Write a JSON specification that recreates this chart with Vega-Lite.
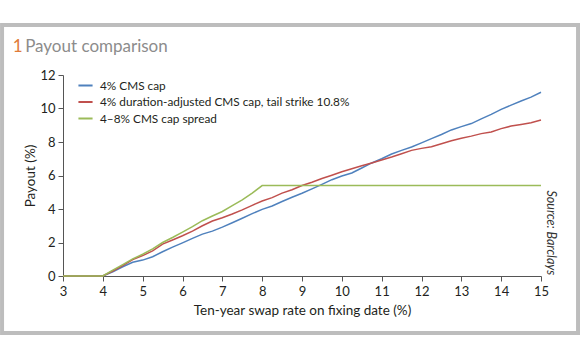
{
  "$schema": "https://vega.github.io/schema/vega-lite/v6.json",
  "width": 478,
  "height": 201,
  "autosize": {"type": "none"},
  "padding": {"left": 63, "top": 75, "right": 39, "bottom": 82},
  "background": "white",
  "data": {"values": [{"k": 1}]},
  "config": {
    "font": "Lato",
    "view": {"stroke": null},
    "axis": {"grid": false, "domainColor": "#555555", "tickColor": "#555555", "labelColor": "#231f20", "titleColor": "#231f20", "labelFontSize": 13, "titleFontSize": 13.5, "titleFontWeight": "normal", "tickSize": 5, "labelFont": "Lato", "titleFont": "Lato", "labelOverlap": false, "labelFlush": false}
  },
  "datasets": {
    "payout": [
      {"rate": 3, "series": "4% CMS cap", "payout": 0},
      {"rate": 4, "series": "4% CMS cap", "payout": 0},
      {"rate": 4.25, "series": "4% CMS cap", "payout": 0.25},
      {"rate": 4.5, "series": "4% CMS cap", "payout": 0.55},
      {"rate": 4.75, "series": "4% CMS cap", "payout": 0.82},
      {"rate": 5, "series": "4% CMS cap", "payout": 0.95},
      {"rate": 5.25, "series": "4% CMS cap", "payout": 1.15},
      {"rate": 5.5, "series": "4% CMS cap", "payout": 1.45},
      {"rate": 5.75, "series": "4% CMS cap", "payout": 1.72},
      {"rate": 6, "series": "4% CMS cap", "payout": 1.98},
      {"rate": 6.25, "series": "4% CMS cap", "payout": 2.25},
      {"rate": 6.5, "series": "4% CMS cap", "payout": 2.5},
      {"rate": 6.75, "series": "4% CMS cap", "payout": 2.68},
      {"rate": 7, "series": "4% CMS cap", "payout": 2.92},
      {"rate": 7.25, "series": "4% CMS cap", "payout": 3.18},
      {"rate": 7.5, "series": "4% CMS cap", "payout": 3.45},
      {"rate": 7.75, "series": "4% CMS cap", "payout": 3.72},
      {"rate": 8, "series": "4% CMS cap", "payout": 3.98},
      {"rate": 8.25, "series": "4% CMS cap", "payout": 4.18},
      {"rate": 8.5, "series": "4% CMS cap", "payout": 4.45},
      {"rate": 8.75, "series": "4% CMS cap", "payout": 4.7},
      {"rate": 9, "series": "4% CMS cap", "payout": 4.94},
      {"rate": 9.25, "series": "4% CMS cap", "payout": 5.2},
      {"rate": 9.5, "series": "4% CMS cap", "payout": 5.47},
      {"rate": 9.75, "series": "4% CMS cap", "payout": 5.75},
      {"rate": 10, "series": "4% CMS cap", "payout": 5.97},
      {"rate": 10.25, "series": "4% CMS cap", "payout": 6.15},
      {"rate": 10.5, "series": "4% CMS cap", "payout": 6.45},
      {"rate": 10.75, "series": "4% CMS cap", "payout": 6.75},
      {"rate": 11, "series": "4% CMS cap", "payout": 7.0},
      {"rate": 11.25, "series": "4% CMS cap", "payout": 7.28},
      {"rate": 11.5, "series": "4% CMS cap", "payout": 7.5},
      {"rate": 11.75, "series": "4% CMS cap", "payout": 7.7},
      {"rate": 12, "series": "4% CMS cap", "payout": 7.95},
      {"rate": 12.25, "series": "4% CMS cap", "payout": 8.2},
      {"rate": 12.5, "series": "4% CMS cap", "payout": 8.45},
      {"rate": 12.75, "series": "4% CMS cap", "payout": 8.72},
      {"rate": 13, "series": "4% CMS cap", "payout": 8.92},
      {"rate": 13.25, "series": "4% CMS cap", "payout": 9.1},
      {"rate": 13.5, "series": "4% CMS cap", "payout": 9.38},
      {"rate": 13.75, "series": "4% CMS cap", "payout": 9.65},
      {"rate": 14, "series": "4% CMS cap", "payout": 9.95},
      {"rate": 14.25, "series": "4% CMS cap", "payout": 10.2},
      {"rate": 14.5, "series": "4% CMS cap", "payout": 10.45},
      {"rate": 14.75, "series": "4% CMS cap", "payout": 10.68},
      {"rate": 15, "series": "4% CMS cap", "payout": 10.97},
      {"rate": 3, "series": "4% duration-adjusted CMS cap, tail strike 10.8%", "payout": 0},
      {"rate": 4, "series": "4% duration-adjusted CMS cap, tail strike 10.8%", "payout": 0},
      {"rate": 4.25, "series": "4% duration-adjusted CMS cap, tail strike 10.8%", "payout": 0.3},
      {"rate": 4.5, "series": "4% duration-adjusted CMS cap, tail strike 10.8%", "payout": 0.62},
      {"rate": 4.75, "series": "4% duration-adjusted CMS cap, tail strike 10.8%", "payout": 0.98},
      {"rate": 5, "series": "4% duration-adjusted CMS cap, tail strike 10.8%", "payout": 1.22},
      {"rate": 5.25, "series": "4% duration-adjusted CMS cap, tail strike 10.8%", "payout": 1.5},
      {"rate": 5.5, "series": "4% duration-adjusted CMS cap, tail strike 10.8%", "payout": 1.9},
      {"rate": 5.75, "series": "4% duration-adjusted CMS cap, tail strike 10.8%", "payout": 2.15},
      {"rate": 6, "series": "4% duration-adjusted CMS cap, tail strike 10.8%", "payout": 2.4},
      {"rate": 6.25, "series": "4% duration-adjusted CMS cap, tail strike 10.8%", "payout": 2.68},
      {"rate": 6.5, "series": "4% duration-adjusted CMS cap, tail strike 10.8%", "payout": 3.0},
      {"rate": 6.75, "series": "4% duration-adjusted CMS cap, tail strike 10.8%", "payout": 3.28},
      {"rate": 7, "series": "4% duration-adjusted CMS cap, tail strike 10.8%", "payout": 3.48},
      {"rate": 7.25, "series": "4% duration-adjusted CMS cap, tail strike 10.8%", "payout": 3.7},
      {"rate": 7.5, "series": "4% duration-adjusted CMS cap, tail strike 10.8%", "payout": 3.95},
      {"rate": 7.75, "series": "4% duration-adjusted CMS cap, tail strike 10.8%", "payout": 4.22},
      {"rate": 8, "series": "4% duration-adjusted CMS cap, tail strike 10.8%", "payout": 4.48},
      {"rate": 8.25, "series": "4% duration-adjusted CMS cap, tail strike 10.8%", "payout": 4.68},
      {"rate": 8.5, "series": "4% duration-adjusted CMS cap, tail strike 10.8%", "payout": 4.95},
      {"rate": 8.75, "series": "4% duration-adjusted CMS cap, tail strike 10.8%", "payout": 5.15},
      {"rate": 9, "series": "4% duration-adjusted CMS cap, tail strike 10.8%", "payout": 5.4},
      {"rate": 9.25, "series": "4% duration-adjusted CMS cap, tail strike 10.8%", "payout": 5.6},
      {"rate": 9.5, "series": "4% duration-adjusted CMS cap, tail strike 10.8%", "payout": 5.82},
      {"rate": 9.75, "series": "4% duration-adjusted CMS cap, tail strike 10.8%", "payout": 6.02},
      {"rate": 10, "series": "4% duration-adjusted CMS cap, tail strike 10.8%", "payout": 6.22},
      {"rate": 10.25, "series": "4% duration-adjusted CMS cap, tail strike 10.8%", "payout": 6.4},
      {"rate": 10.5, "series": "4% duration-adjusted CMS cap, tail strike 10.8%", "payout": 6.58},
      {"rate": 10.75, "series": "4% duration-adjusted CMS cap, tail strike 10.8%", "payout": 6.75},
      {"rate": 11, "series": "4% duration-adjusted CMS cap, tail strike 10.8%", "payout": 6.92},
      {"rate": 11.25, "series": "4% duration-adjusted CMS cap, tail strike 10.8%", "payout": 7.1},
      {"rate": 11.5, "series": "4% duration-adjusted CMS cap, tail strike 10.8%", "payout": 7.3},
      {"rate": 11.75, "series": "4% duration-adjusted CMS cap, tail strike 10.8%", "payout": 7.5},
      {"rate": 12, "series": "4% duration-adjusted CMS cap, tail strike 10.8%", "payout": 7.62},
      {"rate": 12.25, "series": "4% duration-adjusted CMS cap, tail strike 10.8%", "payout": 7.72},
      {"rate": 12.5, "series": "4% duration-adjusted CMS cap, tail strike 10.8%", "payout": 7.9},
      {"rate": 12.75, "series": "4% duration-adjusted CMS cap, tail strike 10.8%", "payout": 8.08},
      {"rate": 13, "series": "4% duration-adjusted CMS cap, tail strike 10.8%", "payout": 8.22},
      {"rate": 13.25, "series": "4% duration-adjusted CMS cap, tail strike 10.8%", "payout": 8.35},
      {"rate": 13.5, "series": "4% duration-adjusted CMS cap, tail strike 10.8%", "payout": 8.5},
      {"rate": 13.75, "series": "4% duration-adjusted CMS cap, tail strike 10.8%", "payout": 8.6},
      {"rate": 14, "series": "4% duration-adjusted CMS cap, tail strike 10.8%", "payout": 8.8},
      {"rate": 14.25, "series": "4% duration-adjusted CMS cap, tail strike 10.8%", "payout": 8.95},
      {"rate": 14.5, "series": "4% duration-adjusted CMS cap, tail strike 10.8%", "payout": 9.05},
      {"rate": 14.75, "series": "4% duration-adjusted CMS cap, tail strike 10.8%", "payout": 9.15},
      {"rate": 15, "series": "4% duration-adjusted CMS cap, tail strike 10.8%", "payout": 9.31},
      {"rate": 3, "series": "4–8% CMS cap spread", "payout": 0},
      {"rate": 4, "series": "4–8% CMS cap spread", "payout": 0},
      {"rate": 4.25, "series": "4–8% CMS cap spread", "payout": 0.35},
      {"rate": 4.5, "series": "4–8% CMS cap spread", "payout": 0.68},
      {"rate": 4.75, "series": "4–8% CMS cap spread", "payout": 1.02},
      {"rate": 5, "series": "4–8% CMS cap spread", "payout": 1.3},
      {"rate": 5.25, "series": "4–8% CMS cap spread", "payout": 1.62},
      {"rate": 5.5, "series": "4–8% CMS cap spread", "payout": 2.0},
      {"rate": 5.75, "series": "4–8% CMS cap spread", "payout": 2.3},
      {"rate": 6, "series": "4–8% CMS cap spread", "payout": 2.62},
      {"rate": 6.25, "series": "4–8% CMS cap spread", "payout": 2.95},
      {"rate": 6.5, "series": "4–8% CMS cap spread", "payout": 3.3},
      {"rate": 6.75, "series": "4–8% CMS cap spread", "payout": 3.58},
      {"rate": 7, "series": "4–8% CMS cap spread", "payout": 3.85},
      {"rate": 7.25, "series": "4–8% CMS cap spread", "payout": 4.2},
      {"rate": 7.5, "series": "4–8% CMS cap spread", "payout": 4.55},
      {"rate": 7.75, "series": "4–8% CMS cap spread", "payout": 4.95},
      {"rate": 8, "series": "4–8% CMS cap spread", "payout": 5.4},
      {"rate": 15, "series": "4–8% CMS cap spread", "payout": 5.4}
    ]
  },
  "layer": [
    {
      "data": {"name": "payout"},
      "mark": {"type": "line", "strokeWidth": 1.5, "clip": false},
      "encoding": {
        "x": {
          "field": "rate", "type": "quantitative",
          "scale": {"domain": [3, 15], "nice": false, "zero": false},
          "axis": {"values": [3, 4, 5, 6, 7, 8, 9, 10, 11, 12, 13, 14, 15], "title": "Ten-year swap rate on fixing date (%)", "labelPadding": 4, "titlePadding": 5, "labelOverlap": false, "labelFlush": false, "labelBound": false}
        },
        "y": {
          "field": "payout", "type": "quantitative",
          "scale": {"domain": [0, 12], "nice": false},
          "axis": {"values": [0, 2, 4, 6, 8, 10, 12], "title": "Payout (%)", "labelPadding": 3, "titlePadding": 2, "labelOverlap": false, "labelFlush": false, "labelBound": false}
        },
        "color": {
          "field": "series", "type": "nominal",
          "scale": {
            "domain": ["4% CMS cap", "4% duration-adjusted CMS cap, tail strike 10.8%", "4–8% CMS cap spread"],
            "range": ["#4f81bd", "#c0504d", "#9bbb59"]
          },
          "legend": {
            "title": null, "orient": "none", "legendX": 14, "legendY": 2,
            "symbolType": "stroke", "symbolSize": 200, "symbolStrokeWidth": 2,
            "labelFontSize": 11.8, "labelColor": "#231f20", "labelFont": "Lato", "labelLimit": 400,
            "rowPadding": 0.5, "labelOffset": 6
          }
        }
      }
    },
    {
      "mark": {"type": "rect", "fill": null, "stroke": "#bdbdbd", "strokeWidth": 4, "clip": false},
      "encoding": {
        "x": {"datum": 1.47, "type": "quantitative", "scale": {"domain": [3, 15], "nice": false, "zero": false}, "axis": {"values": [3, 4, 5, 6, 7, 8, 9, 10, 11, 12, 13, 14, 15], "title": "Ten-year swap rate on fixing date (%)", "labelPadding": 4, "titlePadding": 5, "labelOverlap": false, "labelFlush": false, "labelBound": false}},
        "x2": {"datum": 15.93},
        "y": {"datum": 14.99, "type": "quantitative", "scale": {"domain": [0, 12], "nice": false}, "axis": {"values": [0, 2, 4, 6, 8, 10, 12], "title": "Payout (%)", "labelPadding": 3, "titlePadding": 2, "labelOverlap": false, "labelFlush": false, "labelBound": false}},
        "y2": {"datum": -3.4}
      }
    },
    {
      "mark": {"type": "text", "align": "left", "baseline": "alphabetic", "fontSize": 17, "color": "#e07b39", "font": "Lato"},
      "encoding": {
        "x": {"datum": 1.737, "type": "quantitative", "scale": {"domain": [3, 15], "nice": false, "zero": false}, "axis": {"values": [3, 4, 5, 6, 7, 8, 9, 10, 11, 12, 13, 14, 15], "title": "Ten-year swap rate on fixing date (%)", "labelPadding": 4, "titlePadding": 5, "labelOverlap": false, "labelFlush": false, "labelBound": false}},
        "y": {"datum": 13.39, "type": "quantitative", "scale": {"domain": [0, 12], "nice": false}, "axis": {"values": [0, 2, 4, 6, 8, 10, 12], "title": "Payout (%)", "labelPadding": 3, "titlePadding": 2, "labelOverlap": false, "labelFlush": false, "labelBound": false}},
        "text": {"value": "1"}
      }
    },
    {
      "mark": {"type": "text", "align": "left", "baseline": "alphabetic", "fontSize": 17, "color": "#8c8c8c", "font": "Lato"},
      "encoding": {
        "x": {"datum": 2.05, "type": "quantitative", "scale": {"domain": [3, 15], "nice": false, "zero": false}, "axis": {"values": [3, 4, 5, 6, 7, 8, 9, 10, 11, 12, 13, 14, 15], "title": "Ten-year swap rate on fixing date (%)", "labelPadding": 4, "titlePadding": 5, "labelOverlap": false, "labelFlush": false, "labelBound": false}},
        "y": {"datum": 13.39, "type": "quantitative", "scale": {"domain": [0, 12], "nice": false}, "axis": {"values": [0, 2, 4, 6, 8, 10, 12], "title": "Payout (%)", "labelPadding": 3, "titlePadding": 2, "labelOverlap": false, "labelFlush": false, "labelBound": false}},
        "text": {"value": "Payout comparison"}
      }
    },
    {
      "mark": {"type": "text", "align": "right", "baseline": "middle", "angle": 90, "fontSize": 12.5, "fontStyle": "italic", "color": "#333333", "font": "Lato"},
      "encoding": {
        "x": {"datum": 15.25, "type": "quantitative", "scale": {"domain": [3, 15], "nice": false, "zero": false}, "axis": {"values": [3, 4, 5, 6, 7, 8, 9, 10, 11, 12, 13, 14, 15], "title": "Ten-year swap rate on fixing date (%)", "labelPadding": 4, "titlePadding": 5, "labelOverlap": false, "labelFlush": false, "labelBound": false}},
        "y": {"datum": 0.05, "type": "quantitative", "scale": {"domain": [0, 12], "nice": false}, "axis": {"values": [0, 2, 4, 6, 8, 10, 12], "title": "Payout (%)", "labelPadding": 3, "titlePadding": 2, "labelOverlap": false, "labelFlush": false, "labelBound": false}},
        "text": {"value": "Source: Barclays"}
      }
    }
  ]
}
